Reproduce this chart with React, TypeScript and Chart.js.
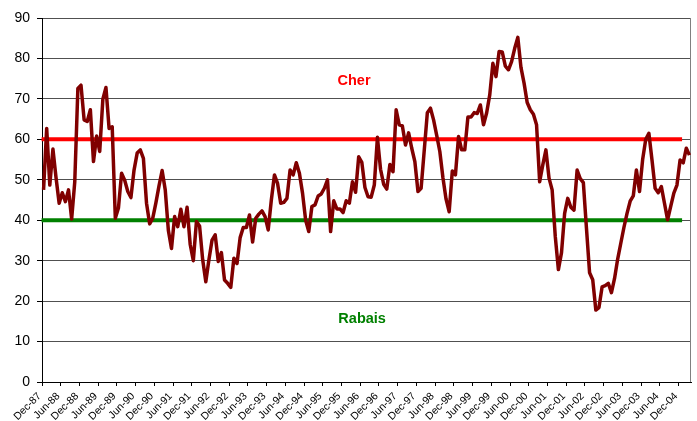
import React, { useEffect, useRef } from 'react';
import { Chart, registerables } from 'chart.js';

Chart.register(...registerables);

// ---------- DATA ----------
const MONTH_NAMES = ['Jan', 'Feb', 'Mar', 'Apr', 'May', 'Jun', 'Jul', 'Aug', 'Sep', 'Oct', 'Nov', 'Dec'];
const START_YEAR = 1987;
const START_MONTH = 11; // December
const MONTH_COUNT = 208; // Dec-87 .. Mar-05
const LABEL_EVERY = 6;

const categories: string[] = Array.from({ length: MONTH_COUNT }, (_, i) => {
  const m = (START_MONTH + i) % 12;
  const y = START_YEAR + Math.floor((START_MONTH + i) / 12);
  return `${MONTH_NAMES[m]}-${String(y % 100).padStart(2, '0')}`;
});

const values1988_1990 = [
  47.5, 62.7, 48.7, 57.6, 50.5, 44.2, 46.8, 44.6, 47.5, 40.3, 49.5, 72.6,
  73.4, 64.8, 64.4, 67.3, 54.5, 60.8, 57.0, 69.9, 72.8, 62.7, 63.1, 40.5,
  43.0, 51.6, 49.9, 47.1, 45.6, 52.4, 56.6, 57.4, 55.3, 44.2, 39.1, 40.5,
];
const values1991_1993 = [
  44.3, 48.5, 52.3, 47.5, 37.5, 33.0, 40.9, 38.4, 42.7, 38.4, 43.2, 34.0,
  30.0, 39.7, 38.6, 30.2, 24.8, 30.2, 35.1, 36.4, 29.8, 32.0, 25.2, 24.4,
  23.4, 30.6, 29.3, 35.7, 38.2, 38.2, 41.3, 34.6, 40.5, 41.5, 42.3, 40.9,
];
const values1994_1996 = [
  37.6, 45.0, 51.2, 49.1, 44.2, 44.4, 45.4, 52.4, 51.2, 54.2, 51.6, 46.7,
  40.0, 37.2, 43.4, 43.8, 46.0, 46.5, 47.9, 50.0, 37.2, 44.8, 42.8, 42.8,
  41.9, 44.8, 44.2, 49.5, 46.9, 55.7, 54.3, 48.1, 45.8, 45.7, 48.7, 60.5,
];
const values1997_1999 = [
  52.6, 48.9, 47.7, 53.8, 52.0, 67.3, 63.6, 63.3, 58.6, 61.6, 57.8, 54.5,
  47.1, 47.9, 57.2, 66.6, 67.7, 64.8, 61.0, 57.0, 50.5, 45.2, 42.1, 52.2,
  51.2, 60.7, 57.4, 57.4, 65.5, 65.5, 66.6, 66.4, 68.5, 63.6, 66.5, 71.0,
];
const values2000_2002 = [
  78.8, 75.5, 81.7, 81.6, 78.1, 77.2, 79.2, 82.5, 85.2, 77.8, 73.9, 69.1,
  67.3, 66.2, 63.6, 49.5, 53.7, 57.4, 50.4, 47.5, 36.0, 27.8, 32.0, 41.7,
  45.4, 43.2, 42.5, 52.4, 50.3, 49.3, 38.0, 27.0, 25.3, 17.8, 18.4, 23.5,
];
const values2003_2005 = [
  23.8, 24.4, 22.1, 25.6, 30.4, 34.3, 38.2, 41.7, 44.7, 46.0, 52.4, 47.1,
  55.0, 60.0, 61.5, 54.9, 47.9, 46.8, 48.3, 44.2, 40.1, 43.4, 46.7, 48.7,
  54.9, 54.2, 57.8, 56.1,
];
const seriesValues = [
  ...values1988_1990,
  ...values1991_1993,
  ...values1994_1996,
  ...values1997_1999,
  ...values2000_2002,
  ...values2003_2005,
];

const cherLevel = 60;
const rabaisLevel = 40;
const bandStart = 'Dec-87';
const bandEnd = 'Dec-04';

const yTicks = { min: 0, max: 90, step: 10 };

const annotations = [
  { text: 'Cher', color: '#FF0000', xIndex: 99.5, yValue: 74.4 },
  { text: 'Rabais', color: '#008000', xIndex: 102.1, yValue: 15.7 },
];

// ---------- PLUGIN ----------
const decorPlugin = {
  id: 'decor',
  beforeDatasetsDraw(chart: any) {
    const { ctx, chartArea } = chart;
    ctx.save();
    ctx.strokeStyle = '#808080';
    ctx.lineWidth = 1;
    ctx.beginPath();
    ctx.moveTo(Math.round(chartArea.right) - 0.5, chartArea.top);
    ctx.lineTo(Math.round(chartArea.right) - 0.5, chartArea.bottom);
    ctx.stroke();
    ctx.restore();
  },
  afterDatasetsDraw(chart: any) {
    const { ctx } = chart;
    const xs = chart.scales.x;
    const ys = chart.scales.y;
    ctx.save();
    ctx.font = 'bold 14.5px "Liberation Sans", Arial, sans-serif';
    ctx.textAlign = 'center';
    ctx.textBaseline = 'middle';
    for (const a of annotations) {
      ctx.fillStyle = a.color;
      ctx.fillText(a.text, xs.getPixelForValue(a.xIndex), ys.getPixelForValue(a.yValue));
    }
    ctx.restore();
  },
};

export default function App() {
  const canvasRef = useRef<HTMLCanvasElement | null>(null);

  useEffect(() => {
    document.body.style.margin = '0';
    const canvas = canvasRef.current;
    if (!canvas) return;
    const chart = new Chart(canvas, {
      type: 'line',
      data: {
        labels: categories,
        datasets: [
          {
            label: 'Cher',
            data: [
              { x: bandStart, y: cherLevel },
              { x: bandEnd, y: cherLevel },
            ] as any,
            borderColor: '#FF0000',
            borderWidth: 4,
            pointRadius: 0,
            borderCapStyle: 'square',
            clip: false as any,
            order: 2,
          },
          {
            label: 'Rabais',
            data: [
              { x: bandStart, y: rabaisLevel },
              { x: bandEnd, y: rabaisLevel },
            ] as any,
            borderColor: '#008000',
            borderWidth: 4,
            pointRadius: 0,
            borderCapStyle: 'square',
            clip: false as any,
            order: 2,
          },
          {
            label: 'Série',
            data: seriesValues,
            borderColor: '#800000',
            borderWidth: 3.5,
            pointRadius: 0,
            tension: 0,
            borderJoinStyle: 'round',
            order: 1,
          },
        ],
      },
      options: {
        responsive: false,
        animation: false,
        layout: { padding: { top: 18, right: 6, left: 0, bottom: 0 } },
        plugins: {
          legend: { display: false },
          tooltip: { enabled: false },
        },
        scales: {
          x: {
            type: 'category',
            offset: true,
            grid: {
              offset: true,
              drawOnChartArea: false,
              drawTicks: true,
              tickLength: 4,
              color: (c: any) => (c.index % LABEL_EVERY === 0 && c.index < MONTH_COUNT ? '#000' : 'rgba(0,0,0,0)'),
            },
            border: { display: true, color: '#000', width: 1 },
            ticks: {
              autoSkip: false,
              minRotation: 45,
              maxRotation: 45,
              padding: 4,
              labelOffset: -4,
              color: '#000',
              font: { family: '"Liberation Sans", Arial, sans-serif', size: 10.5 },
              callback: (_v: any, i: number) => (i % LABEL_EVERY === 0 ? categories[i] : ''),
            },
            afterFit: (s: any) => {
              s.height = 39;
              s.paddingLeft = 0;
              s.paddingRight = 0;
            },
          },
          y: {
            min: yTicks.min,
            max: yTicks.max,
            grid: {
              color: '#505050',
              tickColor: '#000',
              tickLength: 5,
              lineWidth: 1,
            },
            border: { display: true, color: '#000', width: 1 },
            ticks: {
              stepSize: yTicks.step,
              padding: 7,
              color: '#000',
              font: { family: '"Liberation Sans", Arial, sans-serif', size: 14 },
            },
            afterFit: (s: any) => {
              s.width = 42;
              s.paddingTop = 0;
              s.paddingBottom = 0;
            },
          },
        },
      },
      plugins: [decorPlugin],
    });
    return () => chart.destroy();
  }, []);

  return (
    <div style={{ width: 697, height: 421 }}>
      <canvas ref={canvasRef} width={697} height={421} style={{ display: 'block' }} />
    </div>
  );
}
